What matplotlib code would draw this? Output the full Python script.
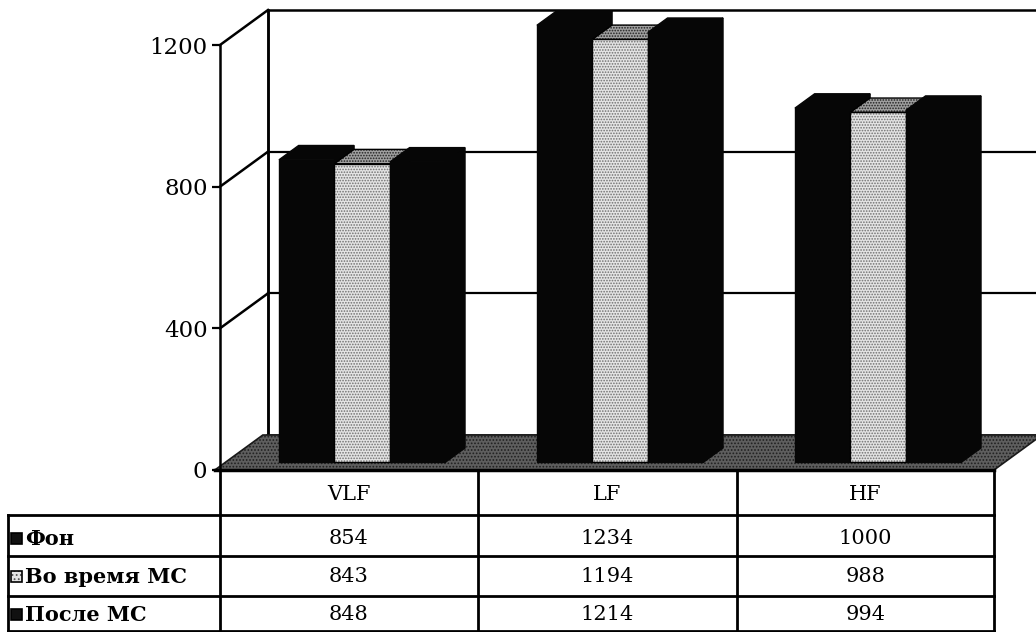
import matplotlib
matplotlib.use('Agg')
import matplotlib.pyplot as plt
from matplotlib.patches import Polygon, Rectangle

# ---------------- data ----------------
categories = ['VLF', 'LF', 'HF']
series_names = ['Фон', 'Во время МС', 'После МС']
fon = [854, 1234, 1000]
vo_vremya = [843, 1194, 988]
posle = [848, 1214, 994]
yticks = [0, 400, 800, 1200]

series_values = [fon, vo_vremya, posle]

# ---------------- figure / scales ----------------
W, H = 1036, 632
fig = plt.figure(figsize=(W / 100, H / 100), dpi=100)
SERIF = 'DejaVu Serif'

X0, XU = 220, 774 / 3          # pixel of x=0, pixels per category
Y0, YU = 470, 425 / 1200       # pixel of value 0, pixels per unit
ax = fig.add_axes([0, 0, 1, 1])
ax.set_xlim(-X0 / XU, (W - X0) / XU)
ax.set_ylim((Y0 - H) / YU, Y0 / YU)
for s in ['top', 'right', 'bottom']:
    ax.spines[s].set_visible(False)
ax.set_xticks([])
ax.spines['left'].set_position(('data', 0))
ax.spines['left'].set_bounds(0, yticks[-1])
ax.spines['left'].set_linewidth(1.8)
ax.set_yticks(yticks)
ax.set_yticklabels([str(t) for t in yticks], fontfamily=SERIF, fontsize=16.5)
ax.tick_params(axis='y', direction='out', length=6, width=1.6, pad=3)
ax.patch.set_visible(False)

DX = 48 / XU     # depth offset in x units
DY = 35 / YU     # depth offset in value units
XMAX = (W - X0) / XU + 0.5
ncat = len(categories)
ymax = yticks[-1]

# back wall
ax.add_patch(Rectangle((DX, DY), XMAX, ymax, facecolor='white',
                       edgecolor='black', lw=1.8, zorder=0.5))
for v in yticks[1:-1]:
    ax.plot([DX, XMAX], [v + DY, v + DY], color='black', lw=1.6, zorder=0.6)
# left wall diagonals
for v in yticks:
    ax.plot([0, DX], [v, v + DY], color='black', lw=1.8, zorder=0.6)
ax.plot([DX, DX], [DY, ymax + DY], color='black', lw=1.8, zorder=0.6)

# floor
plt.rcParams['hatch.linewidth'] = 0.8
floor = [(-0.02, 0), (ncat, 0), (ncat + DX, DY), (DX - 0.02, DY)]
ax.add_patch(Polygon(floor, closed=True, facecolor='#5e5e5e', edgecolor='#202020',
                     hatch='.....', lw=0, zorder=1))
ax.add_patch(Polygon(floor, closed=True, facecolor='none', edgecolor='#1a1a1a',
                     lw=1.2, zorder=1.1))
ax.plot([-0.02, ncat], [0, 0], color='black', lw=2.5, zorder=1.2)

# bars
w = 0.215
t1, t2 = 0.22, 0.63
dd = t2 - t1
z = 2
for i in range(ncat):
    for j, vals in enumerate(series_values):
        val = vals[i]
        xc = i + 0.51 + (j - 1) * w
        xl = xc - w / 2 + t1 * DX
        b = t1 * DY
        top = [(xl, b + val), (xl + w, b + val),
               (xl + w + dd * DX, val + t2 * DY), (xl + dd * DX, val + t2 * DY)]
        side = [(xl + w, b), (xl + w, b + val),
                (xl + w + dd * DX, val + t2 * DY), (xl + w + dd * DX, t2 * DY)]
        if j == 1:
            ax.add_patch(Polygon(side, closed=True, facecolor='#202020',
                                 edgecolor='black', lw=1, zorder=z))
            ax.add_patch(Polygon(top, closed=True, facecolor='#a0a0a0',
                                 edgecolor='#222222', hatch='......', lw=0, zorder=z))
            ax.add_patch(Polygon(top, closed=True, facecolor='none',
                                 edgecolor='black', lw=1, zorder=z))
            ax.bar(xl, val, width=w, bottom=b, align='edge', color='#e4e4e4',
                   edgecolor='#707070', hatch='......', lw=0, zorder=z)
            ax.bar(xl, val, width=w, bottom=b, align='edge', color='none',
                   edgecolor='black', lw=1, zorder=z)
        else:
            ax.add_patch(Polygon(side, closed=True, facecolor='#060606',
                                 edgecolor='#060606', lw=1, zorder=z))
            ax.add_patch(Polygon(top, closed=True, facecolor='#060606',
                                 edgecolor='#060606', lw=1, zorder=z))
            ax.bar(xl, val, width=w, bottom=b, align='edge', color='#060606',
                   edgecolor='#060606', lw=1, zorder=z)
        z += 0.01

# ---------------- data table (pixel overlay) ----------------
tab = fig.add_axes([0, 0, 1, 1])
tab.set_xlim(0, W)
tab.set_ylim(H, 0)
tab.axis('off')
tab.patch.set_visible(False)

col_x = [220, 478, 737, 994]
row_y = [470, 515, 556, 596, 631]
LEFT = 8
lw = 2.0
for y in row_y[1:]:
    tab.plot([LEFT, col_x[-1]], [y, y], color='black', lw=lw)
for x in col_x:
    tab.plot([x, x], [row_y[0], row_y[-1]], color='black', lw=lw)
tab.plot([LEFT, LEFT], [row_y[1], row_y[-1]], color='black', lw=lw)

for c, cat in enumerate(categories):
    cx = (col_x[c] + col_x[c + 1]) / 2
    tab.text(cx, 495, cat, ha='center', va='center', fontfamily=SERIF, fontsize=15)

text_y = [539, 577, 615]
for r, (name, vals) in enumerate(zip(series_names, series_values)):
    ty = text_y[r]
    for c in range(ncat):
        cx = (col_x[c] + col_x[c + 1]) / 2
        tab.text(cx, ty, str(vals[c]), ha='center', va='center',
                 fontfamily=SERIF, fontsize=15)
    # legend key
    if r == 1:
        tab.add_patch(Rectangle((11, ty - 6), 11, 11, facecolor='#e4e4e4',
                                edgecolor='#555555', hatch='....', lw=0))
        tab.add_patch(Rectangle((11, ty - 6), 11, 11, facecolor='none',
                                edgecolor='black', lw=1.2))
    else:
        tab.add_patch(Rectangle((11, ty - 6), 11, 11, facecolor='#111111',
                                edgecolor='black', lw=1.2))
    tab.text(25, ty, name, ha='left', va='center', fontfamily=SERIF,
             fontweight='bold', fontsize=15)

fig.savefig('out.png', dpi=100)
